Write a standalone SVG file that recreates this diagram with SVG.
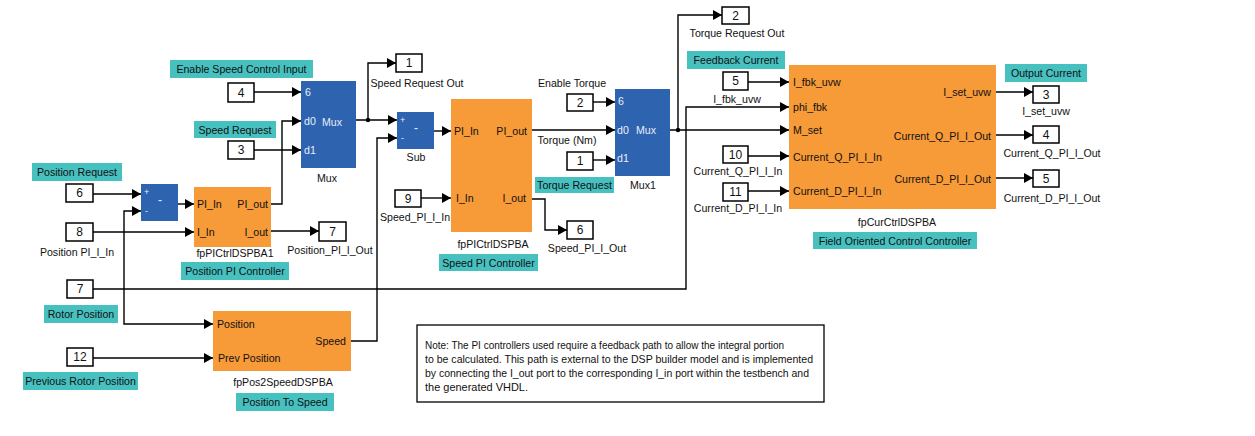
<svg xmlns="http://www.w3.org/2000/svg" width="1255" height="436" viewBox="0 0 1255 436">
<defs>
<marker id="arr" markerUnits="userSpaceOnUse" markerWidth="10" markerHeight="10" refX="9" refY="5" orient="auto">
<path d="M0,0 L9,5 L0,10 z" fill="#000"/>
</marker>
<style>
text{font-family:"Liberation Sans",Arial,sans-serif;font-size:10.6px;fill:#111;dominant-baseline:central}
.lbl{fill:#47C0C0}
.port rect{fill:#fff;stroke:#000;stroke-width:1.5}
.port text{font-size:12px;text-anchor:middle}
.org{fill:#F79A38}
.blu{fill:#2E63B0}
.wt{fill:#E8EEF8}
.c{text-anchor:middle}
.e{text-anchor:end}
#connectors path{fill:none;stroke:#000;stroke-width:1.4}
.arw{marker-end:url(#arr)}
</style>
</defs>
<rect width="1255" height="436" fill="#fff"/>

<g id="connectors">
<path class="arw" d="M254,92 L301,92"/>
<path class="arw" d="M271,204 L282,204 L282,121 L301,121"/>
<path class="arw" d="M254,150 L301,150"/>
<path class="arw" d="M93,194 L141,194"/>
<path class="arw" d="M178,204 L194,204"/>
<path class="arw" d="M93,232 L194,232"/>
<path class="arw" d="M93,289 L686,289 L686,107 L789,107"/>
<path class="arw" d="M124,289 L124,211 L141,211"/>
<path class="arw" d="M124,289 L124,324 L213,324"/>
<path class="arw" d="M93,358 L213,358"/>
<path class="arw" d="M351,341 L377,341 L377,138 L397,138"/>
<path class="arw" d="M271,231 L319,231"/>
<path class="arw" d="M356,120 L397,120"/>
<path class="arw" d="M368,120 L368,63 L396,63"/>
<path class="arw" d="M434,131 L451,131"/>
<path class="arw" d="M421,198 L451,198"/>
<path class="arw" d="M532,130 L615,130"/>
<path class="arw" d="M532,199 L545,199 L545,230 L567,230"/>
<path class="arw" d="M593,102 L615,102"/>
<path class="arw" d="M593,160 L615,160"/>
<path class="arw" d="M670,130 L789,130"/>
<path class="arw" d="M678,130 L678,15 L722,15"/>
<path class="arw" d="M748,82 L789,82"/>
<path class="arw" d="M748,156 L789,156"/>
<path class="arw" d="M748,191 L789,191"/>
<path class="arw" d="M996,92 L1033,92"/>
<path class="arw" d="M996,135 L1033,135"/>
<path class="arw" d="M996,178 L1033,178"/>
<circle cx="368" cy="120" r="2.2" fill="#000"/>
<circle cx="678" cy="130" r="2.2" fill="#000"/>
</g>

<!-- annotation labels -->
<g id="labels">
<rect class="lbl" x="170" y="60" width="143" height="18"/><text class="c" x="241.5" y="69">Enable Speed Control Input</text>
<rect class="lbl" x="194" y="121" width="82" height="17"/><text class="c" x="235" y="129.5">Speed Request</text>
<rect class="lbl" x="32" y="163" width="90" height="18"/><text class="c" x="77" y="172">Position Request</text>
<rect class="lbl" x="181" y="262" width="108" height="18"/><text class="c" x="235" y="271">Position PI Controller</text>
<rect class="lbl" x="439" y="254" width="99" height="17"/><text class="c" x="488.5" y="262.5">Speed PI Controller</text>
<rect class="lbl" x="535" y="177" width="79" height="16"/><text class="c" x="574.5" y="185">Torque Request</text>
<rect class="lbl" x="687" y="51" width="98" height="18"/><text class="c" x="736" y="60">Feedback Current</text>
<rect class="lbl" x="1005" y="64" width="82" height="18"/><text class="c" x="1046" y="73">Output Current</text>
<rect class="lbl" x="813" y="232" width="164" height="17"/><text class="c" x="895" y="240.5">Field Oriented Control Controller</text>
<rect class="lbl" x="44" y="305" width="74" height="18"/><text class="c" x="81" y="314">Rotor Position</text>
<rect class="lbl" x="23" y="372" width="115" height="18"/><text class="c" x="80.5" y="381">Previous Rotor Position</text>
<rect class="lbl" x="236" y="393" width="98" height="18"/><text class="c" x="285" y="402">Position To Speed</text>
<text class="c" x="572" y="83">Enable Torque</text>
<text class="c" x="567" y="140">Torque (Nm)</text>
</g>

<!-- input/output ports -->
<g id="in4" class="port"><rect x="228" y="83" width="26" height="19"/><text x="241" y="92.5">4</text></g>
<g id="in3" class="port"><rect x="228" y="141" width="26" height="18"/><text x="241" y="150">3</text></g>
<g id="in6" class="port"><rect x="66" y="184" width="27" height="18"/><text x="79.5" y="193">6</text></g>
<g id="in8" class="port"><rect x="66" y="223" width="27" height="18"/><text x="79.5" y="232">8</text><text x="77" y="252" style="font-size:10.6px">Position PI_I_In</text></g>
<g id="in7" class="port"><rect x="67" y="280" width="26" height="18"/><text x="80" y="289">7</text></g>
<g id="in12" class="port"><rect x="67" y="348" width="26" height="18"/><text x="80" y="357">12</text></g>
<g id="out7" class="port"><rect x="319" y="222" width="27" height="19"/><text x="332.5" y="231.5">7</text><text x="330" y="250" style="font-size:10.6px">Position_PI_I_Out</text></g>
<g id="out1" class="port"><rect x="396" y="54" width="26" height="18"/><text x="409" y="63">1</text><text x="417" y="83" style="font-size:10.6px">Speed Request Out</text></g>
<g id="in9" class="port"><rect x="395" y="190" width="26" height="17"/><text x="408" y="198.5">9</text><text x="415" y="217" style="font-size:10.6px">Speed_PI_I_In</text></g>
<g id="in2" class="port"><rect x="567" y="94" width="26" height="17"/><text x="580" y="102.5">2</text></g>
<g id="in1" class="port"><rect x="567" y="152" width="26" height="18"/><text x="580" y="161">1</text></g>
<g id="out6" class="port"><rect x="567" y="221" width="26" height="18"/><text x="580" y="230">6</text><text x="587" y="248" style="font-size:10.6px">Speed_PI_I_Out</text></g>
<g id="out2" class="port"><rect x="722" y="7" width="27" height="17"/><text x="735.5" y="15.5">2</text><text x="737" y="33" style="font-size:10.6px">Torque Request Out</text></g>
<g id="in5" class="port"><rect x="723" y="72" width="25" height="18"/><text x="735.5" y="81">5</text><text x="737" y="99" style="font-size:10.6px">I_fbk_uvw</text></g>
<g id="in10" class="port"><rect x="723" y="146" width="25" height="17"/><text x="735.5" y="154.5">10</text><text x="738" y="171" style="font-size:10.6px">Current_Q_PI_I_In</text></g>
<g id="in11" class="port"><rect x="723" y="183" width="25" height="18"/><text x="735.5" y="192">11</text><text x="738" y="208" style="font-size:10.6px">Current_D_PI_I_In</text></g>
<g id="out3" class="port"><rect x="1033" y="86" width="26" height="17"/><text x="1046" y="94.5">3</text><text x="1046" y="111" style="font-size:10.6px">I_set_uvw</text></g>
<g id="out4" class="port"><rect x="1033" y="126" width="26" height="17"/><text x="1046" y="134.5">4</text><text x="1052" y="153" style="font-size:10.6px">Current_Q_PI_I_Out</text></g>
<g id="out5" class="port"><rect x="1033" y="170" width="26" height="17"/><text x="1046" y="178.5">5</text><text x="1052" y="198" style="font-size:10.6px">Current_D_PI_I_Out</text></g>

<!-- blocks -->
<g id="mux">
<rect class="blu" x="301" y="81" width="55" height="87"/>
<text class="wt" x="305" y="92">6</text>
<text class="wt" x="304" y="121">d0</text>
<text class="wt" x="304" y="150">d1</text>
<text class="wt" x="322" y="122">Mux</text>
<text class="c" x="327" y="178">Mux</text>
</g>
<g id="sum">
<rect class="blu" x="141" y="184" width="37" height="37"/>
<text class="wt" x="144" y="192" style="font-size:9px">+</text>
<text class="wt" x="145" y="211" style="font-size:9px">-</text>
<text class="wt" x="158" y="200" style="font-size:12px">-</text>
</g>
<g id="posPI">
<rect class="org" x="194" y="187" width="77" height="60"/>
<text x="197" y="204">PI_In</text>
<text class="e" x="268" y="204">PI_out</text>
<text x="197" y="232">I_In</text>
<text class="e" x="268" y="232">I_out</text>
<text class="c" x="235" y="253">fpPICtrlDSPBA1</text>
</g>
<g id="sub">
<rect class="blu" x="397" y="112" width="37" height="37"/>
<text class="wt" x="400" y="120" style="font-size:9px">+</text>
<text class="wt" x="401" y="138" style="font-size:9px">-</text>
<text class="wt" x="414" y="128" style="font-size:12px">-</text>
<text class="c" x="416" y="157">Sub</text>
</g>
<g id="speedPI">
<rect class="org" x="451" y="99" width="81" height="133"/>
<text x="454" y="131">PI_In</text>
<text class="e" x="527" y="131">PI_out</text>
<text x="456" y="198">I_In</text>
<text class="e" x="526" y="198">I_out</text>
<text class="c" x="493" y="244">fpPICtrlDSPBA</text>
</g>
<g id="mux1">
<rect class="blu" x="615" y="89" width="55" height="87"/>
<text class="wt" x="618" y="101">6</text>
<text class="wt" x="617" y="130">d0</text>
<text class="wt" x="617" y="158">d1</text>
<text class="wt" x="636" y="130">Mux</text>
<text class="c" x="643" y="185">Mux1</text>
</g>
<g id="foc">
<rect class="org" x="789" y="65" width="207" height="144"/>
<text x="793" y="82">I_fbk_uvw</text>
<text x="793" y="107">phi_fbk</text>
<text x="793" y="130">M_set</text>
<text x="793" y="157">Current_Q_PI_I_In</text>
<text x="793" y="191">Current_D_PI_I_In</text>
<text class="e" x="991" y="92">I_set_uvw</text>
<text class="e" x="991" y="136">Current_Q_PI_I_Out</text>
<text class="e" x="991" y="179">Current_D_PI_I_Out</text>
<text class="c" x="897" y="222">fpCurCtrlDSPBA</text>
</g>
<g id="pos2speed">
<rect class="org" x="213" y="311" width="138" height="60"/>
<text x="217" y="324">Position</text>
<text x="218" y="358">Prev Position</text>
<text class="e" x="346" y="341">Speed</text>
<text class="c" x="283" y="382">fpPos2SpeedDSPBA</text>
</g>

<g id="note">
<rect x="417" y="325" width="407" height="77" fill="#fff" stroke="#000" stroke-width="1.3"/>
<text x="425" y="345" textLength="359" lengthAdjust="spacingAndGlyphs">Note: The PI controllers used require a feedback path to allow the integral portion</text>
<text x="425" y="359" textLength="388" lengthAdjust="spacingAndGlyphs">to be calculated. This path is external to the DSP builder model and is implemented</text>
<text x="425" y="373" textLength="384" lengthAdjust="spacingAndGlyphs">by connecting the I_out port to the corresponding I_in port within the testbench and</text>
<text x="425" y="387" textLength="103" lengthAdjust="spacingAndGlyphs">the generated VHDL.</text>
</g>
</svg>
